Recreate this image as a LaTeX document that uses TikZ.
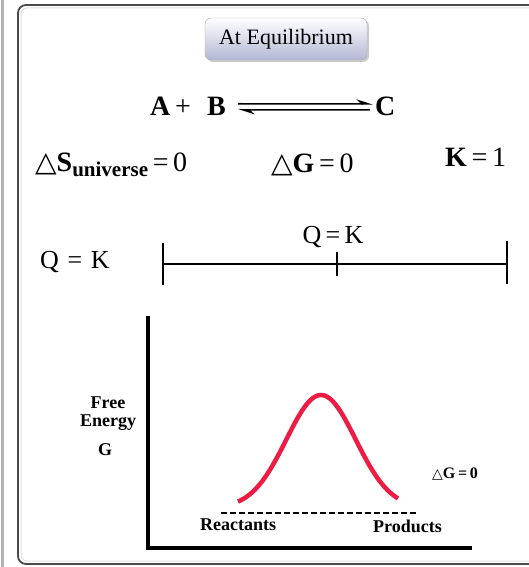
\documentclass[tikz,border=0pt]{standalone}
\usepackage{fontspec}
\setmainfont{Liberation Serif}
\newfontfamily\symb{DejaVu Sans}
\usepackage{xcolor}
\definecolor{courbe}{HTML}{EC1C42}
\definecolor{cadre}{HTML}{4A4A4A}
\definecolor{lavande}{HTML}{B3B7D4}
\usetikzlibrary{positioning,arrows.meta,calc,shadows}

\newcommand{\dtri}{{\symb\char"25B3}}

\begin{document}
\begin{tikzpicture}[x=1pt,y=-1pt,
  titre/.style={draw=gray!70,rounded corners=6pt,top color=white,bottom color=lavande,
    drop shadow={shadow xshift=2pt,shadow yshift=-2pt,opacity=0.4},
    minimum width=162pt,minimum height=42pt,font=\fontsize{22}{24}\selectfont},
  grand/.style={inner sep=0pt,font=\fontsize{28}{30}\selectfont},
  moyen/.style={inner sep=0pt,font=\fontsize{26}{28}\selectfont},
  petit/.style={inner sep=0pt,font=\fontsize{18}{18}\selectfont\bfseries},
  harp/.style={line width=1.6pt},
  axe/.style={line width=4pt},
  graduation/.style={line width=1.2pt}
]
\useasboundingbox (0,0) rectangle (529,567);
\clip (0,0) rectangle (529,567);

% cadre
\draw[gray!60,line width=3pt] (2,0) -- (2,567);
\draw[cadre,line width=1.8pt,rounded corners=8pt] (18,5) rectangle (560,564);
\draw[gray!25,line width=1pt,rounded corners=6pt] (21,8) rectangle (557,561);

% titre
\node[titre] (eq) at (286,39) {At Equilibrium};

% reaction
\node[grand,anchor=base east] (ab) at (226,116) {\textbf{A}\,+\,\, \textbf{B}};
\node[grand,anchor=base west] (c) at (375,116) {\textbf{C}};
\draw[harp,-{Stealth[harpoon,length=14pt,width=9pt]}] ($(ab.east)+(12,-3)$) -- ($(c.west)+(-2,-3)$);
\draw[harp,-{Stealth[harpoon,length=14pt,width=9pt]}] ($(c.west)+(-5,3)$) -- ($(ab.east)+(12,3)$);

% grandeurs
\node[grand,anchor=base west] (ds) at (35,171)
  {\dtri\textbf{S}\raisebox{-5pt}{\fontsize{21}{24}\selectfont\bfseries universe}\,=\,0};
\node[grand,anchor=base west] (dg) at (271,172) {\dtri\textbf{G}\,=\,0};
\node[grand,anchor=base west] (kv) at (445,166) {\textbf{K}\,=\,1};

% axe Q
\node[moyen,anchor=base west] (qk) at (40,268) {Q\,\,=\,\,K};
\coordinate (lg) at (163,264);
\coordinate (mi) at (337,264);
\coordinate (rd) at (507,264);
\draw[graduation] (lg) -- (rd);
\draw[graduation] ($(lg)+(0,-21)$) -- ($(lg)+(0,21)$);
\draw[graduation] ($(mi)+(0,-12)$) -- ($(mi)+(0,12)$);
\draw[graduation] ($(rd)+(0,-23)$) -- ($(rd)+(0,20)$);
\node[moyen,anchor=base] (qkm) at (333,243) {Q\,=\,K};

% diagramme d'energie
\coordinate (o) at (148,548);
\draw[axe] (148,316) -- (o) -- (472,548);
\node[petit,align=center,anchor=base] (fe) at (108,426) {Free\\Energy};
\node[petit,anchor=base] (g) at (105,455) {G};
\draw[courbe,line width=4.5pt,domain=238:398,samples=80,smooth]
  plot (\x,{508-113*exp(-((\x-321)/49)^2)});
\draw[line width=2.8pt,dash pattern=on 6pt off 3pt] (221,513) -- (418,513);
\node[petit,anchor=base west] (re) at (200,530) {Reactants};
\node[petit,anchor=base west] (pr) at (373,532) {Products};
\node[inner sep=0pt,anchor=base west,font=\fontsize{16}{18}\selectfont\bfseries] (dz) at (432,478)
  {{\fontsize{14}{16}\selectfont\dtri}G\,=\,0};
\end{tikzpicture}
\end{document}
